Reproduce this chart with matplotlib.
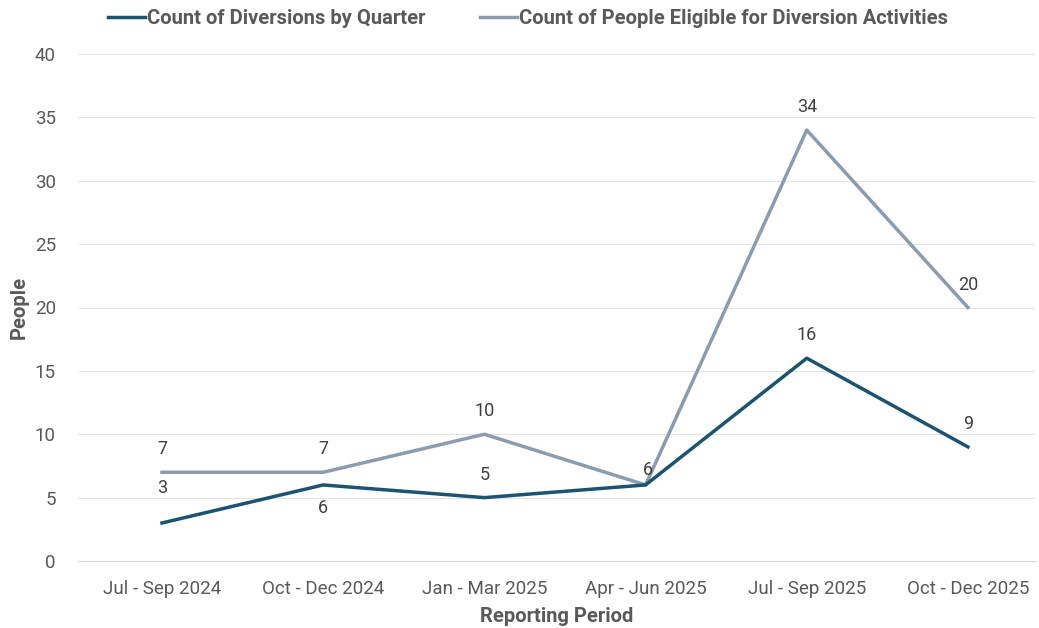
import matplotlib.pyplot as plt

periods = ['Jul - Sep 2024', 'Oct - Dec 2024', 'Jan - Mar 2025',
           'Apr - Jun 2025', 'Jul - Sep 2025', 'Oct - Dec 2025']
diversions = [3, 6, 5, 6, 16, 9]
eligible = [7, 7, 10, 6, 34, 20]

dark = '#1b5470'
light = '#8a9cae'
text_col = '#595959'

plt.rcParams['font.family'] = ['Roboto', 'DejaVu Sans']

fig = plt.figure(figsize=(10.39, 6.28), dpi=100)
ax = fig.add_axes([78 / 1039, 67 / 628, (1035 - 78) / 1039, (561 - 54) / 628])

x = list(range(len(periods)))
ax.plot(x, diversions, color=dark, linewidth=2.5, label='Count of Diversions by Quarter', zorder=3)
ax.plot(x, eligible, color=light, linewidth=2.5,
        label='Count of People Eligible for Diversion Activities', zorder=2)

# data labels (placement follows the reference)
div_offsets = [(0, 19), (0, -10), (0, 10), (0, 10), (0, 10), (0, 10)]
eli_offsets = [(0, 10), (0, 10), (0, 10), (2, 4), (0, 10), (0, 10)]
for i, v in enumerate(diversions):
    if i == 3:
        continue  # hidden under the other series' label
    dx, dy = div_offsets[i]
    ax.annotate(str(v), (i, v), xytext=(dx, dy), textcoords='offset points',
                ha='center', va='bottom' if dy > 0 else 'top', fontsize=13, color='#404040')
for i, v in enumerate(eligible):
    dx, dy = eli_offsets[i]
    ax.annotate(str(v), (i, v), xytext=(dx, dy), textcoords='offset points',
                ha='center', va='bottom', fontsize=13, color='#404040')

ax.set_xlim(-0.521, 5.416)
ax.set_ylim(0, 40)
ax.set_yticks(range(0, 41, 5))
ax.set_xticks(x)
ax.set_xticklabels(periods)
ax.tick_params(axis='both', length=0, labelsize=13.5, labelcolor=text_col)
ax.tick_params(axis='x', pad=14)
ax.tick_params(axis='y', pad=16)
ax.grid(axis='y', color='#e3e3e3', linewidth=0.8)
ax.set_axisbelow(True)
for s in ['top', 'right', 'left']:
    ax.spines[s].set_visible(False)
ax.spines['bottom'].set_color('#d9d9d9')

ax.set_xlabel('Reporting Period', fontsize=14.5, fontweight='bold', color=text_col, labelpad=6)
ax.set_ylabel('People', fontsize=14.5, fontweight='bold', color=text_col, labelpad=4)

leg = ax.legend(loc='upper center', bbox_to_anchor=(0.47, 1.124), ncol=2, frameon=False,
                handlelength=1.85, handletextpad=0.08, columnspacing=2.7,
                prop={'weight': 'bold', 'size': 14.5})
for t in leg.get_texts():
    t.set_color(text_col)

fig.savefig('out.png', dpi=100)
